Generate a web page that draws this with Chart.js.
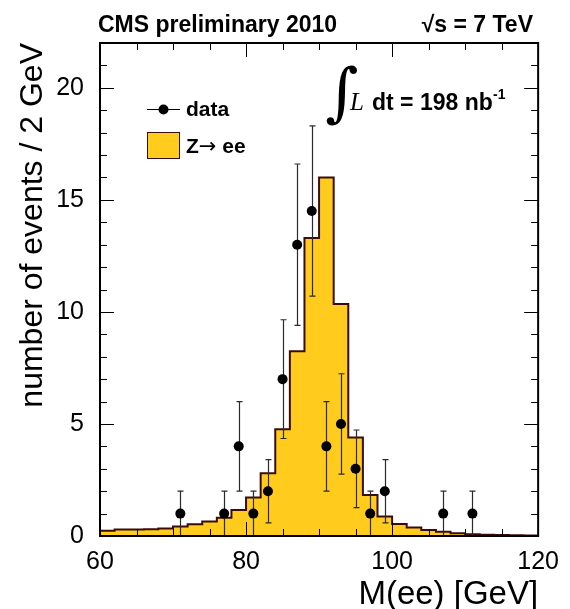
<!DOCTYPE html>
<html><head><meta charset="utf-8">
<script src="https://cdn.jsdelivr.net/npm/chart.js@4.4.1/dist/chart.umd.min.js"></script>
<style>html,body{margin:0;padding:0;background:#fff}canvas{display:block}</style>
</head><body>
<canvas id="c" width="570" height="609"></canvas>
<script>
// ---- data ----
const binLowEdges = [60,62,64,66,68,70,72,74,76,78,80,82,84,86,88,90,92,94,96,98,100,102,104,106,108,110,112,114,116,118];
const binUpperEdge = 120;
const zeeValues = [0.23,0.29,0.29,0.30,0.34,0.42,0.52,0.65,0.81,1.16,1.72,2.80,4.76,8.25,13.3,16.0,10.35,4.4,1.83,0.87,0.54,0.38,0.27,0.19,0.12,0.08,0.06,0.04,0.03,0.02];
const dataMass = [71,77,79,81,83,85,87,89,91,93,95,97,99,107,111];
const dataCounts = [1,1,4,1,2,7,13,14.5,4,5,3,1,2,1,1];
const dataErrLow = [0,0,2,0,0.59,4.35,9.4,10.7,2,2.76,1.27,0,0.59,0,0];
const dataErrHigh = [2,2,6,2,3.41,9.65,16.6,18.3,6,7.24,4.73,2,3.41,2,2];
const xTickLabels = [60,80,100,120];
const yTickLabels = [0,5,10,15,20];
const xMinorTicks = [65,70,75,85,90,95,105,110,115];
const yMinorTicks = [1,2,3,4,6,7,8,9,11,12,13,14,16,17,18,19,21];
const seriesLabels = ['data', 'Z\u2192 ee'];

const FONT = '"Liberation Sans", Arial, Helvetica, sans-serif';
const FILL = 'rgb(255,204,30)';
const EDGE = '#3a0c0c';

const rootPlugin = {
  id: 'rootPlugin',
  beforeDatasetDraw(chart, args) {
    if (args.index !== 0) return;
    const xs = chart.scales.x, ys = chart.scales.y, c = chart.ctx;
    c.save();
    c.strokeStyle = '#2a2a2a'; c.lineWidth = 1.2;
    dataMass.forEach((m, i) => {
      const px = Math.round(xs.getPixelForValue(m)) + 0.5;
      const y1 = ys.getPixelForValue(dataErrLow[i]);
      const y2 = ys.getPixelForValue(dataErrHigh[i]);
      c.beginPath();
      c.moveTo(px, y1); c.lineTo(px, y2);
      c.moveTo(px - 3, y1); c.lineTo(px + 3, y1);
      c.moveTo(px - 3, y2); c.lineTo(px + 3, y2);
      c.stroke();
    });
    c.restore();
  },
  afterDraw(chart) {
    const c = chart.ctx, a = chart.chartArea, xs = chart.scales.x, ys = chart.scales.y;
    c.save();
    // ticks (inward, all four sides)
    c.strokeStyle = '#000'; c.lineWidth = 1;
    const tx = (v, len) => {
      const p = Math.round(xs.getPixelForValue(v)) + 0.5;
      c.beginPath(); c.moveTo(p, a.bottom); c.lineTo(p, a.bottom - len);
      c.moveTo(p, a.top); c.lineTo(p, a.top + len); c.stroke();
    };
    const ty = (v, len) => {
      const p = Math.round(ys.getPixelForValue(v)) + 0.5;
      c.beginPath(); c.moveTo(a.left, p); c.lineTo(a.left + len, p);
      c.moveTo(a.right, p); c.lineTo(a.right - len, p); c.stroke();
    };
    xTickLabels.forEach(v => tx(v, 14));
    xMinorTicks.forEach(v => tx(v, 7));
    yTickLabels.forEach(v => ty(v, 14));
    yMinorTicks.forEach(v => ty(v, 7));
    // frame
    c.lineWidth = 2; c.strokeStyle = '#000';
    c.strokeRect(a.left, a.top, a.right - a.left, a.bottom - a.top);

    // header
    c.fillStyle = '#000';
    c.textBaseline = 'alphabetic';
    c.font = 'bold 23px ' + FONT;
    c.textAlign = 'left';
    c.fillText('CMS preliminary 2010', 98, 32);
    c.textAlign = 'right';
    c.fillText('\u221As = 7 TeV', 533, 32);

    // legend
    c.textAlign = 'left';
    c.strokeStyle = '#000'; c.lineWidth = 1.2;
    c.beginPath(); c.moveTo(147, 109.5); c.lineTo(180, 109.5); c.stroke();
    c.beginPath(); c.arc(163.5, 109.5, 5, 0, Math.PI * 2); c.fill();
    c.font = 'bold 21px ' + FONT;
    c.fillText(seriesLabels[0], 186, 116);
    c.fillStyle = FILL; c.fillRect(147, 132, 32, 26);
    c.strokeStyle = EDGE; c.lineWidth = 1; c.strokeRect(147.5, 132.5, 32, 26);
    c.fillStyle = '#000';
    // "Z→ ee": arrow drawn in a font with a wider arrow glyph
    const parts = seriesLabels[1].split('\u2192');
    let lx = 186;
    c.font = 'bold 21px ' + FONT;
    c.fillText(parts[0], lx, 153); lx += c.measureText(parts[0]).width;
    c.font = '21px "DejaVu Sans", sans-serif';
    c.fillText('\u2192', lx, 153); lx += c.measureText('\u2192').width;
    c.font = 'bold 21px ' + FONT;
    c.fillText(parts[1], lx, 153);

    // luminosity
    c.font = '64px "DejaVu Serif", serif';
    c.fillText('\u222B', 325, 114);
    c.font = 'italic 25px "Liberation Serif", serif';
    c.fillText('L', 350, 110);
    c.font = 'bold 23px ' + FONT;
    c.fillText('dt = 198 nb', 372, 110);
    c.font = 'bold 14px ' + FONT;
    c.fillText('-1', 493, 99);
    c.restore();
  }
};

new Chart(document.getElementById('c'), {
  type: 'line',
  data: {
    datasets: [
      {
        label: seriesLabels[0],
        data: dataMass.map((m, i) => ({ x: m, y: dataCounts[i] })),
        showLine: false,
        pointRadius: 5,
        pointBackgroundColor: '#000',
        pointBorderWidth: 0,
        pointBorderColor: '#000'
      },
      {
        label: seriesLabels[1],
        data: binLowEdges.map((e, i) => ({ x: e, y: zeeValues[i] }))
              .concat([{ x: binUpperEdge, y: zeeValues[zeeValues.length - 1] }]),
        stepped: 'before',
        fill: 'origin',
        backgroundColor: FILL,
        borderColor: EDGE,
        borderWidth: 2,
        pointRadius: 0
      }
    ]
  },
  options: {
    responsive: false,
    animation: false,
    devicePixelRatio: 1,
    layout: { padding: { top: 43, right: 28, left: 0, bottom: 0 } },
    plugins: { legend: { display: false }, tooltip: { enabled: false } },
    scales: {
      x: {
        type: 'linear', min: 60, max: 120,
        afterBuildTicks: s => { s.ticks = xTickLabels.map(v => ({ value: v })); },
        afterFit: s => { s.height = 73; },
        grid: { display: false, drawTicks: false },
        border: { display: false },
        ticks: { font: { family: FONT, size: 25 }, color: '#000', padding: 11, maxRotation: 0, autoSkip: false },
        title: { display: true, text: 'M(ee) [GeV]', align: 'end', color: '#000',
                 font: { family: FONT, size: 33, lineHeight: 0.8 }, padding: { top: 0, bottom: 1 } }
      },
      y: {
        type: 'linear', min: 0, max: 22,
        afterBuildTicks: s => { s.ticks = yTickLabels.map(v => ({ value: v })); },
        afterFit: s => { s.width = 100; },
        grid: { display: false, drawTicks: false },
        border: { display: false },
        ticks: { font: { family: FONT, size: 25 }, color: '#000', padding: 16, autoSkip: false },
        title: { display: true, text: 'number of events / 2 GeV', align: 'end', color: '#000',
                 font: { family: FONT, size: 32, lineHeight: 0.8 }, padding: { top: 20, bottom: 0 } }
      }
    }
  },
  plugins: [rootPlugin]
});
</script>
</body></html>
